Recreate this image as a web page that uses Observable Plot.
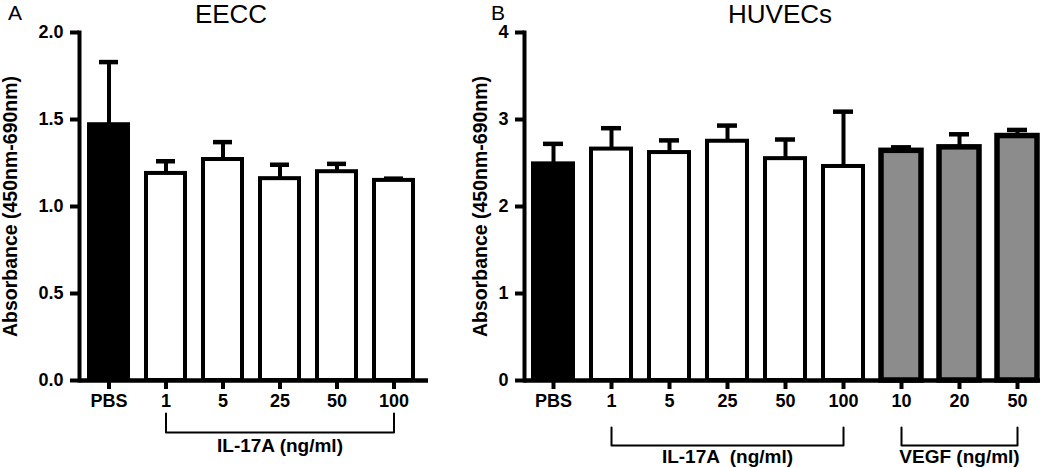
<!DOCTYPE html>
<html><head><meta charset="utf-8">
<script src="https://cdn.jsdelivr.net/npm/d3@7"></script>
<script src="https://cdn.jsdelivr.net/npm/@observablehq/plot@0.6"></script>
<style>
html,body{margin:0;padding:0;background:#fff;}
#chart{position:relative;width:1050px;height:468px;overflow:hidden;font-family:"Liberation Sans",Arial,sans-serif;color:#000;}
.abs{position:absolute;}
.letter{font-size:21px;line-height:21px;}
.title{font-size:26px;line-height:26px;transform:translateX(-50%);white-space:nowrap;}
</style></head><body>
<div id="chart"></div>
<script>
// ---------- data ----------
const categoriesA = ["PBS", "1", "5", "25", "50", "100"];
const groupsA     = ["PBS", "IL-17A", "IL-17A", "IL-17A", "IL-17A", "IL-17A"];
const meansA      = [1.47, 1.19, 1.27, 1.16, 1.20, 1.15];
const errorsA     = [0.36, 0.07, 0.10, 0.08, 0.045, 0.01];
const yTicksA     = [0, 0.5, 1.0, 1.5, 2.0];

const categoriesB = ["PBS", "1", "5", "25", "50", "100", "10", "20", "50"];
const groupsB     = ["PBS", "IL-17A", "IL-17A", "IL-17A", "IL-17A", "IL-17A", "VEGF", "VEGF", "VEGF"];
const meansB      = [2.49, 2.66, 2.62, 2.75, 2.55, 2.46, 2.64, 2.68, 2.81];
const errorsB     = [0.23, 0.24, 0.14, 0.18, 0.22, 0.63, 0.04, 0.15, 0.07];
const yTicksB     = [0, 1, 2, 3, 4];

const bracketLabelsA = {"IL-17A": "IL-17A (ng/ml)"};
const bracketLabelsB = {"IL-17A": "IL-17A  (ng/ml)", "VEGF": "VEGF (ng/ml)"};
const yTitle = "Absorbance (450nm-690nm)";

// ---------- styling ----------
const fills = {"PBS": "#000000", "IL-17A": "#ffffff", "VEGF": "#8c8c8c"};
const font = "'Liberation Sans', Arial, sans-serif";

function rowsOf(cats, groups, means, errs) {
  return cats.map((c, i) => ({key: groups[i] + "|" + c, label: c, group: groups[i], mean: means[i], err: errs[i]}));
}

function panel(cfg) {
  const rows = rowsOf(cfg.cats, cfg.groups, cfg.means, cfg.errs);
  const keys = rows.map(d => d.key);
  const xScale = {type: "band", domain: keys, paddingInner: 0.31, paddingOuter: cfg.po, align: cfg.align};
  const main = Plot.plot({
    width: cfg.width, height: 410,
    marginTop: 32, marginBottom: 30, marginLeft: cfg.ml, marginRight: cfg.mr,
    x: {...xScale, axis: null},
    y: {domain: cfg.yDomain, axis: null},
    color: {type: "identity"},
    style: {fontFamily: font, fontSize: "18px", fontWeight: "bold", background: "transparent", overflow: "visible", color: "#000"},
    marks: [
      Plot.barY(rows, {filter: d => d.group !== "VEGF", x: "key", y: "mean", fill: d => fills[d.group], stroke: "#000", strokeWidth: 4}),
      Plot.barY(rows, {filter: d => d.group === "VEGF", x: "key", y: "mean", fill: d => fills[d.group], stroke: "#000", strokeWidth: 5.5}),
      Plot.ruleX(rows, {x: "key", y1: "mean", y2: d => d.mean + d.err, stroke: "#000", strokeWidth: 4}),
      Plot.tickY(rows, {x: "key", y: d => d.mean + d.err, stroke: "#000", strokeWidth: 4.5, insetLeft: 10, insetRight: 10}),
      Plot.ruleY([0], {stroke: "#000", strokeWidth: 4.5}),
      Plot.frame({anchor: "left", stroke: "#000", strokeWidth: 4}),
      Plot.axisY({ticks: cfg.yTicks, tickFormat: cfg.yFormat, tickSize: 9, tickPadding: 7, strokeWidth: 4, label: null}),
      Plot.axisY({ticks: [], tickSize: 0, label: yTitle, labelAnchor: "center", labelArrow: "none", fontSize: 19.5}),
      Plot.axisX({tickSize: 9, tickPadding: 5, strokeWidth: 4, tickFormat: k => k.split("|")[1], label: null})
    ]
  });

  // bracket groups below the axis
  const bracketGroups = Object.keys(cfg.bracketLabels);
  const pts = [], labels = [];
  for (const g of bracketGroups) {
    const members = rows.filter(d => d.group === g);
    const first = members[0].key, last = members[members.length - 1].key;
    pts.push({group: g, key: first, v: 1}, {group: g, key: first, v: 0}, {group: g, key: last, v: 0}, {group: g, key: last, v: 1});
    labels.push({key: members[Math.floor(members.length / 2)].key, text: cfg.bracketLabels[g]});
  }
  const mini = Plot.plot({
    width: cfg.width, height: cfg.miniH,
    marginTop: cfg.miniMT, marginBottom: cfg.miniMB, marginLeft: cfg.ml, marginRight: cfg.mr,
    x: {...xScale, axis: null},
    y: {domain: [0, 1], axis: null},
    style: {fontFamily: font, fontWeight: "bold", background: "transparent", overflow: "visible", color: "#000"},
    marks: [
      Plot.line(pts, {x: "key", y: "v", z: "group", stroke: "#000", strokeWidth: 2}),
      Plot.text(labels, {x: "key", y: () => 0, text: "text", dy: cfg.labelDy, fontSize: 19, fontWeight: "bold", lineAnchor: "middle", fill: "#000"})
    ]
  });
  return {main, mini};
}

const chart = document.getElementById("chart");
function place(el, left, top, width) {
  const d = document.createElement("div");
  d.className = "abs";
  d.style.left = left + "px"; d.style.top = top + "px";
  if (width) d.style.width = width + "px";
  d.appendChild(el);
  chart.appendChild(d);
}
function label(text, cls, left, top) {
  const d = document.createElement("div");
  d.className = "abs " + cls;
  d.style.left = left + "px"; d.style.top = top + "px";
  d.textContent = text;
  chart.appendChild(d);
}

const A = panel({cats: categoriesA, groups: groupsA, means: meansA, errs: errorsA, yTicks: yTicksA, yFormat: d3.format(".1f"),
  yDomain: [0, 2], width: 470, ml: 79, mr: 42, po: 0.174, align: 0.4,
  bracketLabels: bracketLabelsA, miniH: 55, miniMT: 8, miniMB: 28, labelDy: 13});
place(A.main, 0, 0, 470);
place(A.mini, 0, 405, 470);

const B = panel({cats: categoriesB, groups: groupsB, means: meansB, errs: errorsB, yTicks: yTicksB, yFormat: d3.format("d"),
  yDomain: [0, 4], width: 580, ml: 54, mr: 10, po: 0.10, align: 0.75,
  bracketLabels: bracketLabelsB, miniH: 48, miniMT: 7, miniMB: 23, labelDy: 11});
place(B.main, 470, 0, 580);
place(B.mini, 470, 420, 580);

label("A", "letter", 8, 2);
label("EECC", "title", 231, 1);
label("B", "letter", 491, 2);
label("HUVECs", "title", 780, 1);
</script>
</body></html>
